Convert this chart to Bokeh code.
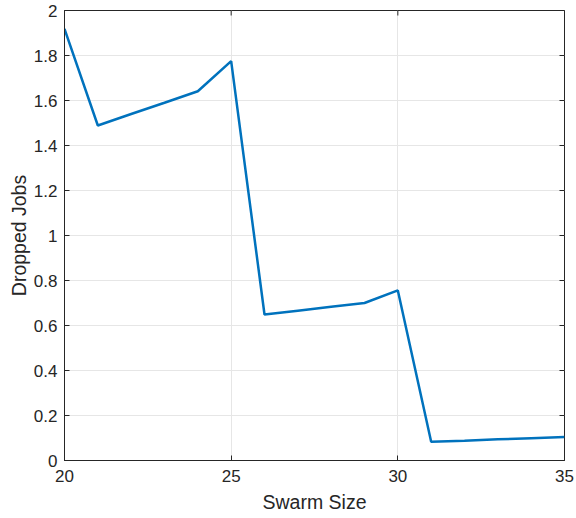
import math
from bokeh.plotting import figure
from bokeh.models import Range1d, FixedTicker
from bokeh.embed import file_html
from bokeh.resources import INLINE

swarm_size = [20, 21, 22, 23, 24, 25, 26, 27, 28, 29, 30, 31, 32, 33, 34, 35]
dropped_jobs = [1.918, 1.489, 1.540, 1.590, 1.641, 1.775, 0.649, 0.666, 0.683, 0.700,
                0.756, 0.083, 0.088, 0.094, 0.099, 0.104]
x_ticks = [20, 25, 30, 35]
y_ticks = [0, 0.2, 0.4, 0.6, 0.8, 1, 1.2, 1.4, 1.6, 1.8, 2]
y_tick_labels = ["0", "0.2", "0.4", "0.6", "0.8", "1", "1.2", "1.4", "1.6", "1.8", "2"]
x_min, x_max = 20, 35
y_min, y_max = 0, 2

FONT = "Liberation Sans"
AX = "#262626"

p = figure(width=576, height=518, output_backend="svg", toolbar_location=None,
           x_range=Range1d(x_min, x_max), y_range=Range1d(y_min, y_max),
           min_border_left=64, min_border_right=12, min_border_top=10, min_border_bottom=58)
p.background_fill_color = "white"
p.border_fill_color = "white"
p.outline_line_color = AX
p.outline_line_width = 1

p.xgrid.ticker = FixedTicker(ticks=x_ticks)
p.ygrid.ticker = FixedTicker(ticks=y_ticks)
p.grid.grid_line_color = "#e6e6e6"
p.grid.grid_line_width = 1

p.line(swarm_size, dropped_jobs, line_color="#0072BD", line_width=2.5)

# inward ticks on the top and right box edges (MATLAB "box on")
p.scatter([x_max] * len(y_ticks), y_ticks, marker="dash", size=10,
          line_color=AX, line_width=1)
p.scatter(x_ticks, [y_max] * len(x_ticks), marker="dash", size=10, angle=math.pi / 2,
          line_color=AX, line_width=1)

for ax in p.xaxis:
    ax.ticker = FixedTicker(ticks=x_ticks)
    ax.axis_label = "Swarm Size"
    ax.major_label_standoff = 9
    ax.axis_label_standoff = 6
for ax in p.yaxis:
    ax.ticker = FixedTicker(ticks=y_ticks)
    ax.major_label_overrides = {t: l for t, l in zip(y_ticks, y_tick_labels)}
    ax.axis_label = "Dropped Jobs"
    ax.major_label_standoff = 7
    ax.axis_label_standoff = 1

for ax in list(p.xaxis) + list(p.yaxis):
    ax.major_tick_in = 5
    ax.major_tick_out = 0
    ax.minor_tick_in = 0
    ax.minor_tick_out = 0
    ax.axis_line_color = AX
    ax.major_tick_line_color = AX
    ax.major_label_text_font = FONT
    ax.major_label_text_font_size = "17px"
    ax.major_label_text_color = AX
    ax.axis_label_text_font = FONT
    ax.axis_label_text_font_size = "19.5px"
    ax.axis_label_text_font_style = "normal"
    ax.axis_label_text_color = AX

open("out.html", "w").write(file_html(p, INLINE))
